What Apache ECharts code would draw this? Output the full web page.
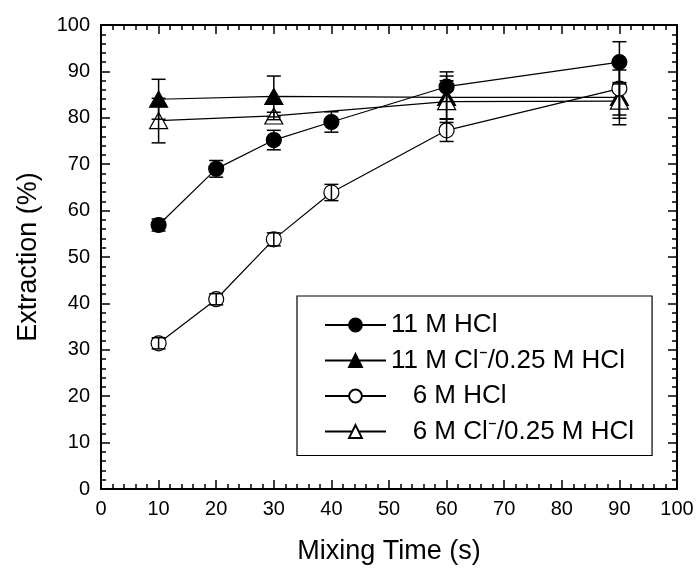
<!DOCTYPE html>
<html>
<head>
<meta charset="utf-8">
<script src="https://cdn.jsdelivr.net/npm/echarts@6/dist/echarts.min.js"></script>
<style>
  html, body { margin: 0; padding: 0; background: #fff; }
  #chart { width: 698px; height: 570px; }
</style>
</head>
<body>
<div id="chart"></div>
<script>
// ---- data ----
const timesAll = [10, 20, 30, 40, 60, 90];
const timesTri = [10, 30, 60, 90];

const hcl11 = [56.9, 69.0, 75.2, 79.1, 86.7, 92.0];
const hcl11Err = [1.3, 1.8, 2.1, 2.2, 3.2, 4.4];

const cl11 = [84.0, 84.6, 84.4, 84.4];
const cl11Err = [4.3, 4.4, 4.6, 5.9];

const hcl6 = [31.4, 40.9, 53.8, 63.9, 77.3, 86.3];
const hcl6Err = [1.2, 1.2, 1.4, 1.75, 2.4, 5.7];

const cl6 = [79.4, 80.4, 83.5, 83.6];
const cl6Err = [4.8, 0.8, 4.5, 3.7];

const seriesNames = ['11 M HCl', '11 M Cl\u207B/0.25 M HCl', '6 M HCl', '6 M Cl\u207B/0.25 M HCl'];
const xTicks = [0, 10, 20, 30, 40, 50, 60, 70, 80, 90, 100];
const yTicks = [0, 10, 20, 30, 40, 50, 60, 70, 80, 90, 100];

// ---- helpers ----
const FONT = 'Liberation Sans, Arial, Helvetica, sans-serif';
function pairs(xs, ys) { return xs.map((x, i) => [x, ys[i]]); }
function errData(xs, ys, es) { return xs.map((x, i) => [x, ys[i] - es[i], ys[i] + es[i]]); }
function errRender(params, api) {
  const x = api.value(0), lo = api.value(1), hi = api.value(2);
  const pLo = api.coord([x, lo]);
  const pHi = api.coord([x, hi]);
  const w = 7;
  const style = { stroke: '#000', lineWidth: 1.5, fill: null };
  return {
    type: 'group',
    children: [
      { type: 'line', shape: { x1: pLo[0], y1: pLo[1], x2: pHi[0], y2: pHi[1] }, style: style },
      { type: 'line', shape: { x1: pLo[0] - w, y1: pLo[1], x2: pLo[0] + w, y2: pLo[1] }, style: style },
      { type: 'line', shape: { x1: pHi[0] - w, y1: pHi[1], x2: pHi[0] + w, y2: pHi[1] }, style: style }
    ]
  };
}
function lineSeries(name, xs, ys, symbol, size, filled) {
  return {
    name: name,
    type: 'line',
    data: pairs(xs, ys),
    symbol: symbol,
    symbolSize: size,
    showAllSymbol: true,
    lineStyle: { color: '#000', width: 1.2 },
    itemStyle: { color: filled ? '#000' : '#fff', borderColor: '#000', borderWidth: 1.2 },
    emphasis: { disabled: true },
    animation: false,
    z: 3
  };
}
function errSeries(xs, ys, es) {
  return {
    type: 'custom',
    renderItem: errRender,
    data: errData(xs, ys, es),
    encode: { x: 0, y: [1, 2] },
    silent: true,
    animation: false,
    z: 10
  };
}

const chart = echarts.init(document.getElementById('chart'), null, { renderer: 'canvas' });

const axisCommon = {
  min: 0, max: 100, interval: 10,
  axisLine: { show: true, onZero: false, lineStyle: { color: '#000', width: 2 } },
  axisTick: { show: true, inside: true, length: 9, lineStyle: { color: '#000', width: 1.5 } },
  minorTick: { show: true, splitNumber: 5, length: 5, lineStyle: { color: '#000', width: 1.5 } },
  splitLine: { show: false }
};

chart.setOption({
  animation: false,
  backgroundColor: '#fff',
  grid: { left: 101, right: 21, top: 25, bottom: 76, containLabel: false },
  legend: {
    left: 297, top: 296,
    orient: 'vertical',
    data: seriesNames,
    itemWidth: 61, itemHeight: 16, itemGap: 9.5,
    padding: [16, 18, 11, 27],
    borderColor: '#000', borderWidth: 1.2,
    backgroundColor: '#fff',
    selectedMode: false,
    formatter: function (n) { return n.charAt(0) === '6' ? '   ' + n : n; },
    textStyle: { fontFamily: FONT, fontSize: 26, color: '#000' }
  },
  xAxis: [
    Object.assign({}, axisCommon, {
      type: 'value', position: 'bottom',
      name: 'Mixing Time (s)', nameLocation: 'middle', nameGap: 49,
      nameTextStyle: { fontFamily: FONT, fontSize: 27, color: '#000' },
      axisLabel: { show: true, margin: 10, fontFamily: FONT, fontSize: 20, color: '#000',
        formatter: function (v) { return xTicks.indexOf(v) >= 0 ? String(v) : ''; } }
    }),
    Object.assign({}, axisCommon, {
      type: 'value', position: 'top', axisLabel: { show: false }
    })
  ],
  yAxis: [
    Object.assign({}, axisCommon, {
      type: 'value', position: 'left',
      name: 'Extraction (%)', nameLocation: 'middle', nameGap: 59,
      nameTextStyle: { fontFamily: FONT, fontSize: 27, color: '#000' },
      axisLabel: { show: true, margin: 11, fontFamily: FONT, fontSize: 20, color: '#000',
        formatter: function (v) { return yTicks.indexOf(v) >= 0 ? String(v) : ''; } }
    }),
    Object.assign({}, axisCommon, {
      type: 'value', position: 'right', axisLabel: { show: false }
    })
  ],
  series: [
    lineSeries(seriesNames[1], timesTri, cl11, 'triangle', [18, 16], true),
    lineSeries(seriesNames[3], timesTri, cl6, 'triangle', [18, 16], false),
    lineSeries(seriesNames[2], timesAll, hcl6, 'circle', 15, false),
    lineSeries(seriesNames[0], timesAll, hcl11, 'circle', 15, true),
    errSeries(timesTri, cl11, cl11Err),
    errSeries(timesTri, cl6, cl6Err),
    errSeries(timesAll, hcl6, hcl6Err),
    errSeries(timesAll, hcl11, hcl11Err)
  ]
});
</script>
</body>
</html>
